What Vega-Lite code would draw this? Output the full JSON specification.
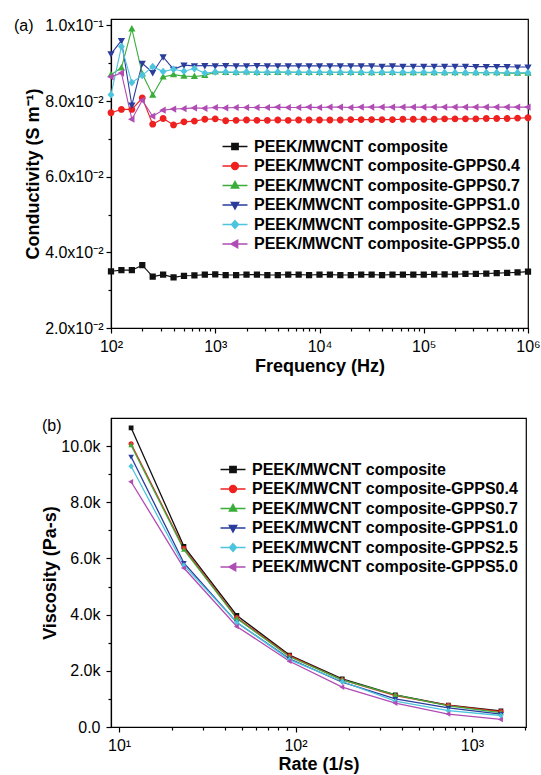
{
  "$schema": "https://vega.github.io/schema/vega-lite/v6.json",
  "background": "white",
  "padding": {"left": 13, "top": 16, "right": 6, "bottom": 2},
  "config": {
    "font": "Liberation Sans",
    "view": {"stroke": "#000", "strokeWidth": 1.2},
    "axis": {"grid": false, "domainColor": "#000", "domainWidth": 1.2, "tickColor": "#000", "tickWidth": 1.2, "labelColor": "#000", "labelFont": "Liberation Sans", "labelFontSize": 16, "titleFont": "Liberation Sans", "titleFontSize": 18, "titleFontWeight": "bold", "titleColor": "#000", "labelOverlap": false, "labelFlush": false},
    "legend": {"labelFont": "Liberation Sans", "labelFontSize": 16, "labelFontWeight": "bold", "labelColor": "#000", "labelLimit": 500, "symbolSize": 156, "symbolStrokeWidth": 1.5, "symbolOpacity": 1, "labelOffset": 11, "rowPadding": 3.5, "padding": 0, "title": null},
    "title": {"font": "Liberation Sans", "fontSize": 16, "fontWeight": "normal", "color": "#000"},
    "concat": {"spacing": 41}
  },
  "datasets": {
    "conductivity": [
      {"s":"PEEK/MWCNT composite","f":100,"c":0.0350},{"s":"PEEK/MWCNT composite","f":125.9,"c":0.0353},{"s":"PEEK/MWCNT composite","f":158.5,"c":0.0353},{"s":"PEEK/MWCNT composite","f":199.5,"c":0.0366},{"s":"PEEK/MWCNT composite","f":251.2,"c":0.0336},{"s":"PEEK/MWCNT composite","f":316.2,"c":0.0341},{"s":"PEEK/MWCNT composite","f":398.1,"c":0.0334},{"s":"PEEK/MWCNT composite","f":501.2,"c":0.0338},{"s":"PEEK/MWCNT composite","f":631,"c":0.0339},{"s":"PEEK/MWCNT composite","f":794.3,"c":0.0341},
      {"s":"PEEK/MWCNT composite","f":1000,"c":0.0342},{"s":"PEEK/MWCNT composite","f":1259,"c":0.0340},{"s":"PEEK/MWCNT composite","f":1585,"c":0.0340},{"s":"PEEK/MWCNT composite","f":1995,"c":0.0341},{"s":"PEEK/MWCNT composite","f":2512,"c":0.0341},{"s":"PEEK/MWCNT composite","f":3162,"c":0.0340},{"s":"PEEK/MWCNT composite","f":3981,"c":0.0340},{"s":"PEEK/MWCNT composite","f":5012,"c":0.0341},{"s":"PEEK/MWCNT composite","f":6310,"c":0.0341},{"s":"PEEK/MWCNT composite","f":7943,"c":0.0340},
      {"s":"PEEK/MWCNT composite","f":10000,"c":0.0341},{"s":"PEEK/MWCNT composite","f":12589,"c":0.0341},{"s":"PEEK/MWCNT composite","f":15849,"c":0.0340},{"s":"PEEK/MWCNT composite","f":19953,"c":0.0340},{"s":"PEEK/MWCNT composite","f":25119,"c":0.0341},{"s":"PEEK/MWCNT composite","f":31623,"c":0.0341},{"s":"PEEK/MWCNT composite","f":39811,"c":0.0340},{"s":"PEEK/MWCNT composite","f":50119,"c":0.0341},{"s":"PEEK/MWCNT composite","f":63096,"c":0.0341},{"s":"PEEK/MWCNT composite","f":79433,"c":0.0341},
      {"s":"PEEK/MWCNT composite","f":100000,"c":0.0341},{"s":"PEEK/MWCNT composite","f":125893,"c":0.0342},{"s":"PEEK/MWCNT composite","f":158489,"c":0.0342},{"s":"PEEK/MWCNT composite","f":199526,"c":0.0342},{"s":"PEEK/MWCNT composite","f":251189,"c":0.0343},{"s":"PEEK/MWCNT composite","f":316228,"c":0.0343},{"s":"PEEK/MWCNT composite","f":398107,"c":0.0344},{"s":"PEEK/MWCNT composite","f":501187,"c":0.0345},{"s":"PEEK/MWCNT composite","f":630957,"c":0.0346},{"s":"PEEK/MWCNT composite","f":794328,"c":0.0347},{"s":"PEEK/MWCNT composite","f":1000000,"c":0.0349},

      {"s":"PEEK/MWCNT composite-GPPS0.4","f":100,"c":0.0769},{"s":"PEEK/MWCNT composite-GPPS0.4","f":125.9,"c":0.0778},{"s":"PEEK/MWCNT composite-GPPS0.4","f":158.5,"c":0.0778},{"s":"PEEK/MWCNT composite-GPPS0.4","f":199.5,"c":0.0808},{"s":"PEEK/MWCNT composite-GPPS0.4","f":251.2,"c":0.0739},{"s":"PEEK/MWCNT composite-GPPS0.4","f":316.2,"c":0.0754},{"s":"PEEK/MWCNT composite-GPPS0.4","f":398.1,"c":0.0737},{"s":"PEEK/MWCNT composite-GPPS0.4","f":501.2,"c":0.0745},{"s":"PEEK/MWCNT composite-GPPS0.4","f":631,"c":0.0747},{"s":"PEEK/MWCNT composite-GPPS0.4","f":794.3,"c":0.0752},
      {"s":"PEEK/MWCNT composite-GPPS0.4","f":1000,"c":0.0753},{"s":"PEEK/MWCNT composite-GPPS0.4","f":1259,"c":0.0748},{"s":"PEEK/MWCNT composite-GPPS0.4","f":1585,"c":0.0749},{"s":"PEEK/MWCNT composite-GPPS0.4","f":1995,"c":0.0750},{"s":"PEEK/MWCNT composite-GPPS0.4","f":2512,"c":0.0749},{"s":"PEEK/MWCNT composite-GPPS0.4","f":3162,"c":0.0749},{"s":"PEEK/MWCNT composite-GPPS0.4","f":3981,"c":0.0750},{"s":"PEEK/MWCNT composite-GPPS0.4","f":5012,"c":0.0749},{"s":"PEEK/MWCNT composite-GPPS0.4","f":6310,"c":0.0750},{"s":"PEEK/MWCNT composite-GPPS0.4","f":7943,"c":0.0750},
      {"s":"PEEK/MWCNT composite-GPPS0.4","f":10000,"c":0.0750},{"s":"PEEK/MWCNT composite-GPPS0.4","f":12589,"c":0.0750},{"s":"PEEK/MWCNT composite-GPPS0.4","f":15849,"c":0.0750},{"s":"PEEK/MWCNT composite-GPPS0.4","f":19953,"c":0.0751},{"s":"PEEK/MWCNT composite-GPPS0.4","f":25119,"c":0.0751},{"s":"PEEK/MWCNT composite-GPPS0.4","f":31623,"c":0.0751},{"s":"PEEK/MWCNT composite-GPPS0.4","f":39811,"c":0.0751},{"s":"PEEK/MWCNT composite-GPPS0.4","f":50119,"c":0.0751},{"s":"PEEK/MWCNT composite-GPPS0.4","f":63096,"c":0.0752},{"s":"PEEK/MWCNT composite-GPPS0.4","f":79433,"c":0.0752},
      {"s":"PEEK/MWCNT composite-GPPS0.4","f":100000,"c":0.0752},{"s":"PEEK/MWCNT composite-GPPS0.4","f":125893,"c":0.0752},{"s":"PEEK/MWCNT composite-GPPS0.4","f":158489,"c":0.0753},{"s":"PEEK/MWCNT composite-GPPS0.4","f":199526,"c":0.0753},{"s":"PEEK/MWCNT composite-GPPS0.4","f":251189,"c":0.0753},{"s":"PEEK/MWCNT composite-GPPS0.4","f":316228,"c":0.0753},{"s":"PEEK/MWCNT composite-GPPS0.4","f":398107,"c":0.0754},{"s":"PEEK/MWCNT composite-GPPS0.4","f":501187,"c":0.0754},{"s":"PEEK/MWCNT composite-GPPS0.4","f":630957,"c":0.0754},{"s":"PEEK/MWCNT composite-GPPS0.4","f":794328,"c":0.0755},{"s":"PEEK/MWCNT composite-GPPS0.4","f":1000000,"c":0.0756},

      {"s":"PEEK/MWCNT composite-GPPS0.7","f":100,"c":0.0870},{"s":"PEEK/MWCNT composite-GPPS0.7","f":125.9,"c":0.0888},{"s":"PEEK/MWCNT composite-GPPS0.7","f":158.5,"c":0.0991},{"s":"PEEK/MWCNT composite-GPPS0.7","f":199.5,"c":0.0872},{"s":"PEEK/MWCNT composite-GPPS0.7","f":251.2,"c":0.0816},{"s":"PEEK/MWCNT composite-GPPS0.7","f":316.2,"c":0.0864},{"s":"PEEK/MWCNT composite-GPPS0.7","f":398.1,"c":0.0870},{"s":"PEEK/MWCNT composite-GPPS0.7","f":501.2,"c":0.0866},{"s":"PEEK/MWCNT composite-GPPS0.7","f":631,"c":0.0865},{"s":"PEEK/MWCNT composite-GPPS0.7","f":794.3,"c":0.0868},
      {"s":"PEEK/MWCNT composite-GPPS0.7","f":1000,"c":0.0877},{"s":"PEEK/MWCNT composite-GPPS0.7","f":1259,"c":0.0876},{"s":"PEEK/MWCNT composite-GPPS0.7","f":1585,"c":0.0876},{"s":"PEEK/MWCNT composite-GPPS0.7","f":1995,"c":0.0877},{"s":"PEEK/MWCNT composite-GPPS0.7","f":2512,"c":0.0876},{"s":"PEEK/MWCNT composite-GPPS0.7","f":3162,"c":0.0876},{"s":"PEEK/MWCNT composite-GPPS0.7","f":3981,"c":0.0876},{"s":"PEEK/MWCNT composite-GPPS0.7","f":5012,"c":0.0877},{"s":"PEEK/MWCNT composite-GPPS0.7","f":6310,"c":0.0876},{"s":"PEEK/MWCNT composite-GPPS0.7","f":7943,"c":0.0876},
      {"s":"PEEK/MWCNT composite-GPPS0.7","f":10000,"c":0.0876},{"s":"PEEK/MWCNT composite-GPPS0.7","f":12589,"c":0.0876},{"s":"PEEK/MWCNT composite-GPPS0.7","f":15849,"c":0.0876},{"s":"PEEK/MWCNT composite-GPPS0.7","f":19953,"c":0.0876},{"s":"PEEK/MWCNT composite-GPPS0.7","f":25119,"c":0.0876},{"s":"PEEK/MWCNT composite-GPPS0.7","f":31623,"c":0.0875},{"s":"PEEK/MWCNT composite-GPPS0.7","f":39811,"c":0.0876},{"s":"PEEK/MWCNT composite-GPPS0.7","f":50119,"c":0.0876},{"s":"PEEK/MWCNT composite-GPPS0.7","f":63096,"c":0.0875},{"s":"PEEK/MWCNT composite-GPPS0.7","f":79433,"c":0.0875},
      {"s":"PEEK/MWCNT composite-GPPS0.7","f":100000,"c":0.0875},{"s":"PEEK/MWCNT composite-GPPS0.7","f":125893,"c":0.0875},{"s":"PEEK/MWCNT composite-GPPS0.7","f":158489,"c":0.0875},{"s":"PEEK/MWCNT composite-GPPS0.7","f":199526,"c":0.0875},{"s":"PEEK/MWCNT composite-GPPS0.7","f":251189,"c":0.0875},{"s":"PEEK/MWCNT composite-GPPS0.7","f":316228,"c":0.0875},{"s":"PEEK/MWCNT composite-GPPS0.7","f":398107,"c":0.0875},{"s":"PEEK/MWCNT composite-GPPS0.7","f":501187,"c":0.0875},{"s":"PEEK/MWCNT composite-GPPS0.7","f":630957,"c":0.0874},{"s":"PEEK/MWCNT composite-GPPS0.7","f":794328,"c":0.0874},{"s":"PEEK/MWCNT composite-GPPS0.7","f":1000000,"c":0.0874},

      {"s":"PEEK/MWCNT composite-GPPS1.0","f":100,"c":0.0925},{"s":"PEEK/MWCNT composite-GPPS1.0","f":125.9,"c":0.0960},{"s":"PEEK/MWCNT composite-GPPS1.0","f":158.5,"c":0.0789},{"s":"PEEK/MWCNT composite-GPPS1.0","f":199.5,"c":0.0900},{"s":"PEEK/MWCNT composite-GPPS1.0","f":251.2,"c":0.0875},{"s":"PEEK/MWCNT composite-GPPS1.0","f":316.2,"c":0.0917},{"s":"PEEK/MWCNT composite-GPPS1.0","f":398.1,"c":0.0884},{"s":"PEEK/MWCNT composite-GPPS1.0","f":501.2,"c":0.0895},{"s":"PEEK/MWCNT composite-GPPS1.0","f":631,"c":0.0893},{"s":"PEEK/MWCNT composite-GPPS1.0","f":794.3,"c":0.0894},
      {"s":"PEEK/MWCNT composite-GPPS1.0","f":1000,"c":0.0893},{"s":"PEEK/MWCNT composite-GPPS1.0","f":1259,"c":0.0894},{"s":"PEEK/MWCNT composite-GPPS1.0","f":1585,"c":0.0893},{"s":"PEEK/MWCNT composite-GPPS1.0","f":1995,"c":0.0893},{"s":"PEEK/MWCNT composite-GPPS1.0","f":2512,"c":0.0894},{"s":"PEEK/MWCNT composite-GPPS1.0","f":3162,"c":0.0893},{"s":"PEEK/MWCNT composite-GPPS1.0","f":3981,"c":0.0893},{"s":"PEEK/MWCNT composite-GPPS1.0","f":5012,"c":0.0893},{"s":"PEEK/MWCNT composite-GPPS1.0","f":6310,"c":0.0893},{"s":"PEEK/MWCNT composite-GPPS1.0","f":7943,"c":0.0893},
      {"s":"PEEK/MWCNT composite-GPPS1.0","f":10000,"c":0.0893},{"s":"PEEK/MWCNT composite-GPPS1.0","f":12589,"c":0.0893},{"s":"PEEK/MWCNT composite-GPPS1.0","f":15849,"c":0.0893},{"s":"PEEK/MWCNT composite-GPPS1.0","f":19953,"c":0.0893},{"s":"PEEK/MWCNT composite-GPPS1.0","f":25119,"c":0.0893},{"s":"PEEK/MWCNT composite-GPPS1.0","f":31623,"c":0.0893},{"s":"PEEK/MWCNT composite-GPPS1.0","f":39811,"c":0.0892},{"s":"PEEK/MWCNT composite-GPPS1.0","f":50119,"c":0.0893},{"s":"PEEK/MWCNT composite-GPPS1.0","f":63096,"c":0.0892},{"s":"PEEK/MWCNT composite-GPPS1.0","f":79433,"c":0.0892},
      {"s":"PEEK/MWCNT composite-GPPS1.0","f":100000,"c":0.0892},{"s":"PEEK/MWCNT composite-GPPS1.0","f":125893,"c":0.0892},{"s":"PEEK/MWCNT composite-GPPS1.0","f":158489,"c":0.0892},{"s":"PEEK/MWCNT composite-GPPS1.0","f":199526,"c":0.0892},{"s":"PEEK/MWCNT composite-GPPS1.0","f":251189,"c":0.0892},{"s":"PEEK/MWCNT composite-GPPS1.0","f":316228,"c":0.0891},{"s":"PEEK/MWCNT composite-GPPS1.0","f":398107,"c":0.0891},{"s":"PEEK/MWCNT composite-GPPS1.0","f":501187,"c":0.0891},{"s":"PEEK/MWCNT composite-GPPS1.0","f":630957,"c":0.0891},{"s":"PEEK/MWCNT composite-GPPS1.0","f":794328,"c":0.0890},{"s":"PEEK/MWCNT composite-GPPS1.0","f":1000000,"c":0.0890},

      {"s":"PEEK/MWCNT composite-GPPS2.5","f":100,"c":0.0817},{"s":"PEEK/MWCNT composite-GPPS2.5","f":125.9,"c":0.0944},{"s":"PEEK/MWCNT composite-GPPS2.5","f":158.5,"c":0.0849},{"s":"PEEK/MWCNT composite-GPPS2.5","f":199.5,"c":0.0868},{"s":"PEEK/MWCNT composite-GPPS2.5","f":251.2,"c":0.0891},{"s":"PEEK/MWCNT composite-GPPS2.5","f":316.2,"c":0.0878},{"s":"PEEK/MWCNT composite-GPPS2.5","f":398.1,"c":0.0884},{"s":"PEEK/MWCNT composite-GPPS2.5","f":501.2,"c":0.0879},{"s":"PEEK/MWCNT composite-GPPS2.5","f":631,"c":0.0886},{"s":"PEEK/MWCNT composite-GPPS2.5","f":794.3,"c":0.0874},
      {"s":"PEEK/MWCNT composite-GPPS2.5","f":1000,"c":0.0877},{"s":"PEEK/MWCNT composite-GPPS2.5","f":1259,"c":0.0877},{"s":"PEEK/MWCNT composite-GPPS2.5","f":1585,"c":0.0876},{"s":"PEEK/MWCNT composite-GPPS2.5","f":1995,"c":0.0877},{"s":"PEEK/MWCNT composite-GPPS2.5","f":2512,"c":0.0876},{"s":"PEEK/MWCNT composite-GPPS2.5","f":3162,"c":0.0876},{"s":"PEEK/MWCNT composite-GPPS2.5","f":3981,"c":0.0877},{"s":"PEEK/MWCNT composite-GPPS2.5","f":5012,"c":0.0876},{"s":"PEEK/MWCNT composite-GPPS2.5","f":6310,"c":0.0876},{"s":"PEEK/MWCNT composite-GPPS2.5","f":7943,"c":0.0876},
      {"s":"PEEK/MWCNT composite-GPPS2.5","f":10000,"c":0.0876},{"s":"PEEK/MWCNT composite-GPPS2.5","f":12589,"c":0.0876},{"s":"PEEK/MWCNT composite-GPPS2.5","f":15849,"c":0.0876},{"s":"PEEK/MWCNT composite-GPPS2.5","f":19953,"c":0.0876},{"s":"PEEK/MWCNT composite-GPPS2.5","f":25119,"c":0.0876},{"s":"PEEK/MWCNT composite-GPPS2.5","f":31623,"c":0.0876},{"s":"PEEK/MWCNT composite-GPPS2.5","f":39811,"c":0.0876},{"s":"PEEK/MWCNT composite-GPPS2.5","f":50119,"c":0.0876},{"s":"PEEK/MWCNT composite-GPPS2.5","f":63096,"c":0.0876},{"s":"PEEK/MWCNT composite-GPPS2.5","f":79433,"c":0.0876},
      {"s":"PEEK/MWCNT composite-GPPS2.5","f":100000,"c":0.0876},{"s":"PEEK/MWCNT composite-GPPS2.5","f":125893,"c":0.0876},{"s":"PEEK/MWCNT composite-GPPS2.5","f":158489,"c":0.0875},{"s":"PEEK/MWCNT composite-GPPS2.5","f":199526,"c":0.0875},{"s":"PEEK/MWCNT composite-GPPS2.5","f":251189,"c":0.0875},{"s":"PEEK/MWCNT composite-GPPS2.5","f":316228,"c":0.0875},{"s":"PEEK/MWCNT composite-GPPS2.5","f":398107,"c":0.0875},{"s":"PEEK/MWCNT composite-GPPS2.5","f":501187,"c":0.0875},{"s":"PEEK/MWCNT composite-GPPS2.5","f":630957,"c":0.0875},{"s":"PEEK/MWCNT composite-GPPS2.5","f":794328,"c":0.0875},{"s":"PEEK/MWCNT composite-GPPS2.5","f":1000000,"c":0.0875},

      {"s":"PEEK/MWCNT composite-GPPS5.0","f":100,"c":0.0864},{"s":"PEEK/MWCNT composite-GPPS5.0","f":125.9,"c":0.0874},{"s":"PEEK/MWCNT composite-GPPS5.0","f":158.5,"c":0.0752},{"s":"PEEK/MWCNT composite-GPPS5.0","f":199.5,"c":0.0802},{"s":"PEEK/MWCNT composite-GPPS5.0","f":251.2,"c":0.0760},{"s":"PEEK/MWCNT composite-GPPS5.0","f":316.2,"c":0.0776},{"s":"PEEK/MWCNT composite-GPPS5.0","f":398.1,"c":0.0779},{"s":"PEEK/MWCNT composite-GPPS5.0","f":501.2,"c":0.0780},{"s":"PEEK/MWCNT composite-GPPS5.0","f":631,"c":0.0782},{"s":"PEEK/MWCNT composite-GPPS5.0","f":794.3,"c":0.0781},
      {"s":"PEEK/MWCNT composite-GPPS5.0","f":1000,"c":0.0783},{"s":"PEEK/MWCNT composite-GPPS5.0","f":1259,"c":0.0782},{"s":"PEEK/MWCNT composite-GPPS5.0","f":1585,"c":0.0783},{"s":"PEEK/MWCNT composite-GPPS5.0","f":1995,"c":0.0783},{"s":"PEEK/MWCNT composite-GPPS5.0","f":2512,"c":0.0783},{"s":"PEEK/MWCNT composite-GPPS5.0","f":3162,"c":0.0783},{"s":"PEEK/MWCNT composite-GPPS5.0","f":3981,"c":0.0784},{"s":"PEEK/MWCNT composite-GPPS5.0","f":5012,"c":0.0783},{"s":"PEEK/MWCNT composite-GPPS5.0","f":6310,"c":0.0783},{"s":"PEEK/MWCNT composite-GPPS5.0","f":7943,"c":0.0784},
      {"s":"PEEK/MWCNT composite-GPPS5.0","f":10000,"c":0.0783},{"s":"PEEK/MWCNT composite-GPPS5.0","f":12589,"c":0.0784},{"s":"PEEK/MWCNT composite-GPPS5.0","f":15849,"c":0.0784},{"s":"PEEK/MWCNT composite-GPPS5.0","f":19953,"c":0.0783},{"s":"PEEK/MWCNT composite-GPPS5.0","f":25119,"c":0.0784},{"s":"PEEK/MWCNT composite-GPPS5.0","f":31623,"c":0.0784},{"s":"PEEK/MWCNT composite-GPPS5.0","f":39811,"c":0.0784},{"s":"PEEK/MWCNT composite-GPPS5.0","f":50119,"c":0.0784},{"s":"PEEK/MWCNT composite-GPPS5.0","f":63096,"c":0.0784},{"s":"PEEK/MWCNT composite-GPPS5.0","f":79433,"c":0.0784},
      {"s":"PEEK/MWCNT composite-GPPS5.0","f":100000,"c":0.0784},{"s":"PEEK/MWCNT composite-GPPS5.0","f":125893,"c":0.0784},{"s":"PEEK/MWCNT composite-GPPS5.0","f":158489,"c":0.0784},{"s":"PEEK/MWCNT composite-GPPS5.0","f":199526,"c":0.0784},{"s":"PEEK/MWCNT composite-GPPS5.0","f":251189,"c":0.0784},{"s":"PEEK/MWCNT composite-GPPS5.0","f":316228,"c":0.0784},{"s":"PEEK/MWCNT composite-GPPS5.0","f":398107,"c":0.0784},{"s":"PEEK/MWCNT composite-GPPS5.0","f":501187,"c":0.0784},{"s":"PEEK/MWCNT composite-GPPS5.0","f":630957,"c":0.0784},{"s":"PEEK/MWCNT composite-GPPS5.0","f":794328,"c":0.0784},{"s":"PEEK/MWCNT composite-GPPS5.0","f":1000000,"c":0.0784}
    ],
    "viscosity": [
      {"s":"PEEK/MWCNT composite","r":11.7,"v":10650},{"s":"PEEK/MWCNT composite","r":23.3,"v":6430},{"s":"PEEK/MWCNT composite","r":46.5,"v":3970},{"s":"PEEK/MWCNT composite","r":92.5,"v":2560},{"s":"PEEK/MWCNT composite","r":184,"v":1710},{"s":"PEEK/MWCNT composite","r":368,"v":1140},{"s":"PEEK/MWCNT composite","r":735,"v":780},{"s":"PEEK/MWCNT composite","r":1460,"v":570},
      {"s":"PEEK/MWCNT composite-GPPS0.4","r":11.7,"v":10080},{"s":"PEEK/MWCNT composite-GPPS0.4","r":23.3,"v":6360},{"s":"PEEK/MWCNT composite-GPPS0.4","r":46.5,"v":3890},{"s":"PEEK/MWCNT composite-GPPS0.4","r":92.5,"v":2530},{"s":"PEEK/MWCNT composite-GPPS0.4","r":184,"v":1680},{"s":"PEEK/MWCNT composite-GPPS0.4","r":368,"v":1120},{"s":"PEEK/MWCNT composite-GPPS0.4","r":735,"v":770},{"s":"PEEK/MWCNT composite-GPPS0.4","r":1460,"v":550},
      {"s":"PEEK/MWCNT composite-GPPS0.7","r":11.7,"v":10030},{"s":"PEEK/MWCNT composite-GPPS0.7","r":23.3,"v":6310},{"s":"PEEK/MWCNT composite-GPPS0.7","r":46.5,"v":3860},{"s":"PEEK/MWCNT composite-GPPS0.7","r":92.5,"v":2500},{"s":"PEEK/MWCNT composite-GPPS0.7","r":184,"v":1680},{"s":"PEEK/MWCNT composite-GPPS0.7","r":368,"v":1140},{"s":"PEEK/MWCNT composite-GPPS0.7","r":735,"v":750},{"s":"PEEK/MWCNT composite-GPPS0.7","r":1460,"v":510},
      {"s":"PEEK/MWCNT composite-GPPS1.0","r":11.7,"v":9620},{"s":"PEEK/MWCNT composite-GPPS1.0","r":23.3,"v":5840},{"s":"PEEK/MWCNT composite-GPPS1.0","r":46.5,"v":3720},{"s":"PEEK/MWCNT composite-GPPS1.0","r":92.5,"v":2430},{"s":"PEEK/MWCNT composite-GPPS1.0","r":184,"v":1600},{"s":"PEEK/MWCNT composite-GPPS1.0","r":368,"v":1000},{"s":"PEEK/MWCNT composite-GPPS1.0","r":735,"v":680},{"s":"PEEK/MWCNT composite-GPPS1.0","r":1460,"v":460},
      {"s":"PEEK/MWCNT composite-GPPS2.5","r":11.7,"v":9280},{"s":"PEEK/MWCNT composite-GPPS2.5","r":23.3,"v":5750},{"s":"PEEK/MWCNT composite-GPPS2.5","r":46.5,"v":3730},{"s":"PEEK/MWCNT composite-GPPS2.5","r":92.5,"v":2400},{"s":"PEEK/MWCNT composite-GPPS2.5","r":184,"v":1620},{"s":"PEEK/MWCNT composite-GPPS2.5","r":368,"v":920},{"s":"PEEK/MWCNT composite-GPPS2.5","r":735,"v":580},{"s":"PEEK/MWCNT composite-GPPS2.5","r":1460,"v":410},
      {"s":"PEEK/MWCNT composite-GPPS5.0","r":11.7,"v":8730},{"s":"PEEK/MWCNT composite-GPPS5.0","r":23.3,"v":5660},{"s":"PEEK/MWCNT composite-GPPS5.0","r":46.5,"v":3580},{"s":"PEEK/MWCNT composite-GPPS5.0","r":92.5,"v":2340},{"s":"PEEK/MWCNT composite-GPPS5.0","r":184,"v":1420},{"s":"PEEK/MWCNT composite-GPPS5.0","r":368,"v":850},{"s":"PEEK/MWCNT composite-GPPS5.0","r":735,"v":460},{"s":"PEEK/MWCNT composite-GPPS5.0","r":1460,"v":270}
    ]
  },
  "vconcat": [
    {
      "width": 417,
      "height": 309,
      "title": {"text": "(a)", "anchor": "start", "frame": "group", "dx": -97, "dy": 21},
      "data": {"name": "conductivity"},
      "encoding": {
        "x": {"field": "f", "type": "quantitative", "title": "Frequency (Hz)",
          "scale": {"type": "log", "domain": [100, 1000000]},
          "axis": {"values": [100,200,300,400,500,600,700,800,900,1000,2000,3000,4000,5000,6000,7000,8000,9000,10000,20000,30000,40000,50000,60000,70000,80000,90000,100000,200000,300000,400000,500000,600000,700000,800000,900000,1000000],
            "labelExpr": "datum.value == 100 ? '10²' : datum.value == 1000 ? '10³' : datum.value == 10000 ? '10⁴' : datum.value == 100000 ? '10⁵' : datum.value == 1000000 ? '10⁶' : ''",
            "tickSize": {"condition": {"test": "datum.value == 100 || datum.value == 1000 || datum.value == 10000 || datum.value == 100000 || datum.value == 1000000", "value": 5}, "value": 3},
            "labelPadding": 5, "titlePadding": 3}},
        "y": {"field": "c", "type": "quantitative", "title": "Conductivity (S m⁻¹)",
          "scale": {"domain": [0.02, 0.1017], "zero": false, "nice": false},
          "axis": {"values": [0.02,0.03,0.04,0.05,0.06,0.07,0.08,0.09,0.1],
            "labelExpr": "datum.value == 0.02 ? '2.0x10⁻²' : datum.value == 0.04 ? '4.0x10⁻²' : datum.value == 0.06 ? '6.0x10⁻²' : datum.value == 0.08 ? '8.0x10⁻²' : datum.value == 0.1 ? '1.0x10⁻¹' : ''",
            "tickSize": {"condition": {"test": "datum.value == 0.03 || datum.value == 0.05 || datum.value == 0.07 || datum.value == 0.09", "value": 3}, "value": 5},
            "labelPadding": 3, "titlePadding": 2}},
        "color": {"field": "s", "type": "nominal", "legend": {"orient": "none", "legendX": 116, "legendY": 119.5},
          "scale": {"domain": ["PEEK/MWCNT composite","PEEK/MWCNT composite-GPPS0.4","PEEK/MWCNT composite-GPPS0.7","PEEK/MWCNT composite-GPPS1.0","PEEK/MWCNT composite-GPPS2.5","PEEK/MWCNT composite-GPPS5.0"],
                    "range": ["#111111","#ee2020","#3aad3a","#2a3c9c","#4cc4de","#b04cb4"]}}
      },
      "layer": [
        {"mark": {"type": "line", "strokeWidth": 1.1}},
        {"mark": {"type": "point", "filled": true, "size": 156, "strokeWidth": 0, "opacity": 1},
         "encoding": {
           "stroke": {"field": "s", "type": "nominal", "legend": {"orient": "none", "legendX": 116, "legendY": 119.5},
             "scale": {"domain": ["PEEK/MWCNT composite","PEEK/MWCNT composite-GPPS0.4","PEEK/MWCNT composite-GPPS0.7","PEEK/MWCNT composite-GPPS1.0","PEEK/MWCNT composite-GPPS2.5","PEEK/MWCNT composite-GPPS5.0"],
                       "range": ["#111111","#ee2020","#3aad3a","#2a3c9c","#4cc4de","#b04cb4"]}},
           "shape": {"field": "s", "type": "nominal", "legend": {"orient": "none", "legendX": 116, "legendY": 119.5},
             "scale": {"domain": ["PEEK/MWCNT composite","PEEK/MWCNT composite-GPPS0.4","PEEK/MWCNT composite-GPPS0.7","PEEK/MWCNT composite-GPPS1.0","PEEK/MWCNT composite-GPPS2.5","PEEK/MWCNT composite-GPPS5.0"],
                       "range": ["M-2,0H2M-0.5,-0.5H0.5V0.5H-0.5Z","M-2,0H2M0.55,0A0.55,0.55,0,1,1,-0.55,0A0.55,0.55,0,1,1,0.55,0Z","M-2,0H2M0,-0.62L0.58,0.42H-0.58Z","M-2,0H2M0,0.62L0.58,-0.42H-0.58Z","M-2,0H2M0,-0.62L0.55,0L0,0.62L-0.55,0Z","M-2,0H2M-0.62,0L0.42,-0.58V0.58Z"]}}
         }}
      ]
    },
    {
      "width": 415,
      "height": 309,
      "title": {"text": "(b)", "anchor": "start", "frame": "group", "dx": -69, "dy": 20},
      "data": {"name": "viscosity"},
      "encoding": {
        "x": {"field": "r", "type": "quantitative", "title": "Rate (1/s)",
          "scale": {"type": "log", "domain": [9, 2025]},
          "axis": {"values": [10,20,30,40,50,60,70,80,90,100,200,300,400,500,600,700,800,900,1000,2000],
            "labelExpr": "datum.value == 10 ? '10¹' : datum.value == 100 ? '10²' : datum.value == 1000 ? '10³' : ''",
            "tickSize": {"condition": {"test": "datum.value == 10 || datum.value == 100 || datum.value == 1000", "value": 5}, "value": 3},
            "labelPadding": 5, "titlePadding": 2}},
        "y": {"field": "v", "type": "quantitative", "title": "Viscosity (Pa-s)",
          "scale": {"domain": [0, 11000], "nice": false},
          "axis": {"values": [0,1000,2000,3000,4000,5000,6000,7000,8000,9000,10000],
            "labelExpr": "datum.value == 0 ? '0.0' : datum.value % 2000 == 0 ? format(datum.value/1000, '.1f') + 'k' : ''",
            "tickSize": {"condition": {"test": "datum.value % 2000 != 0", "value": 3}, "value": 5},
            "labelPadding": 6, "titlePadding": 1}},
        "color": {"field": "s", "type": "nominal", "legend": {"orient": "none", "legendX": 114, "legendY": 43.5},
          "scale": {"domain": ["PEEK/MWCNT composite","PEEK/MWCNT composite-GPPS0.4","PEEK/MWCNT composite-GPPS0.7","PEEK/MWCNT composite-GPPS1.0","PEEK/MWCNT composite-GPPS2.5","PEEK/MWCNT composite-GPPS5.0"],
                    "range": ["#111111","#ee2020","#3aad3a","#2a3c9c","#4cc4de","#b04cb4"]}}
      },
      "layer": [
        {"mark": {"type": "line", "strokeWidth": 1.3}},
        {"mark": {"type": "point", "filled": true, "size": 92, "strokeWidth": 0, "opacity": 1},
         "encoding": {
           "stroke": {"field": "s", "type": "nominal", "legend": {"orient": "none", "legendX": 114, "legendY": 43.5},
             "scale": {"domain": ["PEEK/MWCNT composite","PEEK/MWCNT composite-GPPS0.4","PEEK/MWCNT composite-GPPS0.7","PEEK/MWCNT composite-GPPS1.0","PEEK/MWCNT composite-GPPS2.5","PEEK/MWCNT composite-GPPS5.0"],
                       "range": ["#111111","#ee2020","#3aad3a","#2a3c9c","#4cc4de","#b04cb4"]}},
           "shape": {"field": "s", "type": "nominal", "legend": {"orient": "none", "legendX": 114, "legendY": 43.5},
             "scale": {"domain": ["PEEK/MWCNT composite","PEEK/MWCNT composite-GPPS0.4","PEEK/MWCNT composite-GPPS0.7","PEEK/MWCNT composite-GPPS1.0","PEEK/MWCNT composite-GPPS2.5","PEEK/MWCNT composite-GPPS5.0"],
                       "range": ["M-2,0H2M-0.5,-0.5H0.5V0.5H-0.5Z","M-2,0H2M0.55,0A0.55,0.55,0,1,1,-0.55,0A0.55,0.55,0,1,1,0.55,0Z","M-2,0H2M0,-0.62L0.58,0.42H-0.58Z","M-2,0H2M0,0.62L0.58,-0.42H-0.58Z","M-2,0H2M0,-0.62L0.55,0L0,0.62L-0.55,0Z","M-2,0H2M-0.62,0L0.42,-0.58V0.58Z"]}}
         }}
      ]
    }
  ],
  "resolve": {
    "scale": {"color": "independent", "stroke": "independent", "shape": "independent"},
    "legend": {"color": "independent", "stroke": "independent", "shape": "independent"}
  }
}
